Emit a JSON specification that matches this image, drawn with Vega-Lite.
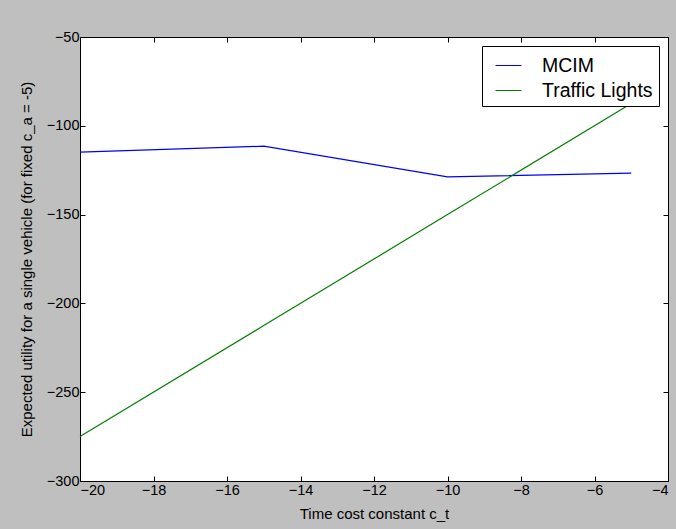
{
  "$schema": "https://vega.github.io/schema/vega-lite/v6.json",
  "width": 588,
  "height": 444,
  "autosize": {"type": "none"},
  "padding": {"left": 80, "top": 37, "right": 8, "bottom": 48},
  "background": "#bfbfbf",
  "config": {
    "font": "Liberation Sans",
    "view": {"fill": "white", "stroke": "black", "strokeWidth": 1},
    "axis": {
      "domain": false,
      "grid": false,
      "tickSize": -5,
      "tickColor": "black",
      "labelColor": "black",
      "labelFontSize": 14.5,
      "titleFontSize": 15,
      "titleFontWeight": "normal",
      "titleColor": "black"
    }
  },
  "data": {
    "values": [
      {"ct": -20, "utility": -114.8, "method": "MCIM"},
      {"ct": -15, "utility": -111.5, "method": "MCIM"},
      {"ct": -10, "utility": -128.8, "method": "MCIM"},
      {"ct": -5, "utility": -126.7, "method": "MCIM"},
      {"ct": -20, "utility": -275, "method": "Traffic Lights"},
      {"ct": -15, "utility": -212.5, "method": "Traffic Lights"},
      {"ct": -10, "utility": -150, "method": "Traffic Lights"},
      {"ct": -5, "utility": -87.5, "method": "Traffic Lights"}
    ]
  },
  "layer": [
    {
      "mark": {"type": "line", "strokeWidth": 1.2},
      "encoding": {
        "x": {
          "field": "ct", "type": "quantitative",
          "scale": {"domain": [-20, -4], "nice": false, "zero": false},
          "axis": {"orient": "bottom", "values": [-20, -18, -16, -14, -12, -10, -8, -6, -4], "title": "Time cost constant c_t", "labelPadding": 7, "titlePadding": 10}
        },
        "y": {
          "field": "utility", "type": "quantitative",
          "scale": {"domain": [-300, -50], "nice": false, "zero": false},
          "axis": {"orient": "left", "values": [-300, -250, -200, -150, -100, -50], "title": "Expected utility for a single vehicle (for fixed c_a = -5)", "labelPadding": 6, "titlePadding": 12}
        },
        "color": {
          "field": "method", "type": "nominal",
          "scale": {"domain": ["MCIM", "Traffic Lights"], "range": ["#0000ff", "#008000"]},
          "legend": {
            "title": null,
            "orient": "none",
            "legendX": 402,
            "legendY": 9,
            "fillColor": "white",
            "strokeColor": "black",
            "cornerRadius": 0,
            "padding": 6,
            "symbolOffset": 7,
            "symbolType": "stroke",
            "symbolSize": 676,
            "symbolStrokeWidth": 1,
            "labelFontSize": 19.5,
            "labelColor": "black",
            "labelOffset": 20,
            "rowPadding": 2,
            "zindex": 1
          }
        }
      }
    },
    {
      "mark": {"type": "line", "opacity": 0},
      "encoding": {
        "x": {"field": "ct", "type": "quantitative", "axis": {"orient": "top", "labels": false, "title": null, "values": [-20, -18, -16, -14, -12, -10, -8, -6, -4]}},
        "y": {"field": "utility", "type": "quantitative", "axis": {"orient": "right", "labels": false, "title": null, "values": [-300, -250, -200, -150, -100, -50]}},
        "detail": {"field": "method"}
      }
    }
  ],
  "resolve": {"axis": {"x": "independent", "y": "independent"}}
}
